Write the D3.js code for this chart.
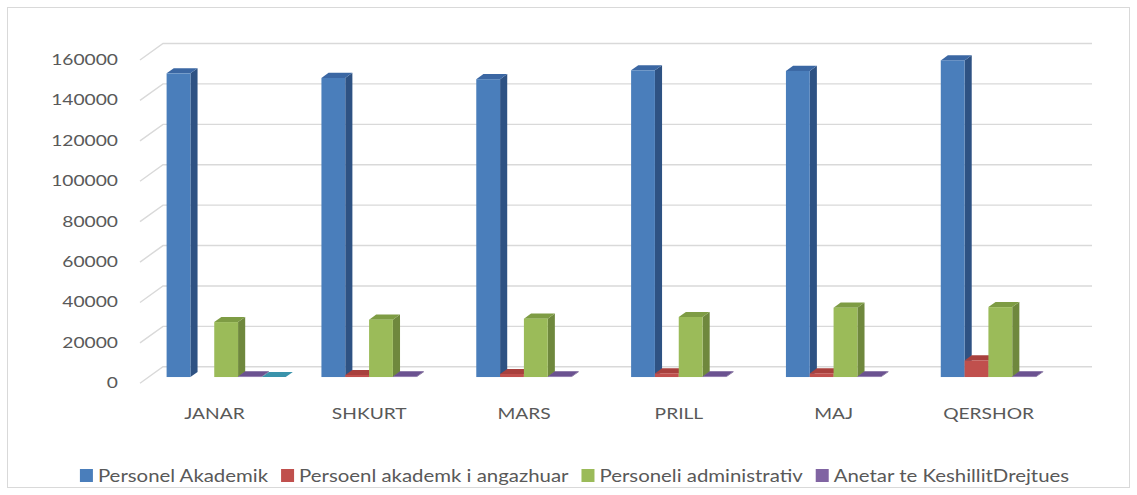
<!DOCTYPE html>
<html>
<head>
<meta charset="utf-8">
<script src="https://cdn.jsdelivr.net/npm/d3@7"></script>
<style>
  body { margin: 0; background: #fff; }
  text { font-family: Lato, "Open Sans", sans-serif; fill: #595959; }
</style>
</head>
<body>
<div id="chart"></div>
<script>
// data
var months = ["JANAR", "SHKURT", "MARS", "PRILL", "MAJ", "QERSHOR"];
var akademik = [150300, 148000, 147400, 151800, 151500, 156700];
var angazhuar = [null, 1000, 1500, 1800, 1800, 8200];
var administrativ = [27200, 28400, 28900, 29700, 34300, 34600];
var keshilli = [300, 300, 300, 300, 300, 300];
var extra = [0, null, null, null, null, null];   // teal series, not in legend
var yTicks = [0, 20000, 40000, 60000, 80000, 100000, 120000, 140000, 160000];

var series = [
  {name: "Personel Akademik", values: akademik, front: "#4a7ebb", side: "#2e5283", top: "#3b67a3", legend: true},
  {name: "Persoenl akademk i angazhuar", values: angazhuar, front: "#c0504d", side: "#8c3a37", top: "#a8403d", legend: true},
  {name: "Personeli administrativ", values: administrativ, front: "#9bbb59", side: "#6f883d", top: "#7e9c44", legend: true},
  {name: "Anetar te KeshillitDrejtues", values: keshilli, front: "#8064a2", side: "#5e4a7a", top: "#6b5290", legend: true},
  {name: "Series5", values: extra, front: "#4bacc6", side: "#33849a", top: "#3a93ab", legend: false}
];

var W = 1137, H = 495;
var DX = 23, DY = -16.5;      // floor depth offset
var dFront = 0.38, dBack = 0.69;
var sx = 1.2;                 // horizontal text stretch

var svg = d3.select("#chart").append("svg")
  .attr("width", W).attr("height", H);

svg.append("rect")
  .attr("x", 7.5).attr("y", 7.5).attr("width", 1122).attr("height", 480)
  .attr("fill", "#fff").attr("stroke", "#d9d9d9");

var x = d3.scaleBand().domain(months).range([140, 1069]);
var xs = d3.scaleBand().domain(series.map(function(s) { return s.name; }))
  .range([0, x.bandwidth()]).paddingOuter(0.75);
var y = d3.scaleLinear().domain([0, 160000]).range([383.3, 60]);

// side wall + back wall gridlines
var grid = svg.append("g").attr("stroke", "#d9d9d9").attr("stroke-width", 1.4).attr("fill", "none");
yTicks.forEach(function(v) {
  grid.append("path")
    .attr("d", "M140," + y(v) + "L" + (140 + DX) + "," + (y(v) + DY) + "L" + (1069 + DX) + "," + (y(v) + DY));
});

// y labels
svg.append("g").selectAll("text").data(yTicks).enter().append("text")
  .attr("transform", function(d) { return "translate(118," + (y(d) - 1) + ") scale(" + sx + ",1)"; })
  .attr("text-anchor", "end").attr("dominant-baseline", "central")
  .attr("font-size", 16)
  .text(function(d) { return d; });

// category labels
svg.append("g").selectAll("text").data(months).enter().append("text")
  .attr("transform", function(d) { return "translate(" + (x(d) + x.bandwidth() / 2 - 3) + ",419) scale(" + sx + ",1)"; })
  .attr("text-anchor", "middle")
  .attr("font-size", 16)
  .text(function(d) { return d; });

// bars, drawn left to right
var ddx = DX * (dBack - dFront), ddy = DY * (dBack - dFront);
var bars = svg.append("g");
months.forEach(function(m, i) {
  series.forEach(function(s) {
    var v = s.values[i];
    if (v === null) return;
    var x0 = x(m) + xs(s.name) + DX * dFront;
    var w = xs.bandwidth();
    var yb = y(0) + DY * dFront;
    var yt = y(v) + DY * dFront;
    var g = bars.append("g");
    g.append("polygon")
      .attr("points", [[x0 + w, yt], [x0 + w + ddx, yt + ddy], [x0 + w + ddx, yb + ddy], [x0 + w, yb]].join(" "))
      .attr("fill", s.side);
    g.append("polygon")
      .attr("points", [[x0, yt], [x0 + w, yt], [x0 + w + ddx, yt + ddy], [x0 + ddx, yt + ddy]].join(" "))
      .attr("fill", s.top);
    g.append("rect")
      .attr("x", x0).attr("y", yt).attr("width", w).attr("height", yb - yt)
      .attr("fill", s.front);
  });
});

// legend
var legend = svg.append("g");
var lx = 0;
series.filter(function(s) { return s.legend; }).forEach(function(s) {
  var item = legend.append("g").attr("transform", "translate(" + lx + ",0)");
  item.append("rect").attr("x", 0).attr("y", -6.5).attr("width", 13).attr("height", 13).attr("fill", s.front);
  var t = item.append("text")
    .attr("transform", "translate(18,0) scale(" + sx + ",1)")
    .attr("dominant-baseline", "central")
    .attr("font-size", 17)
    .text(s.name);
  lx += 18 + t.node().getComputedTextLength() * sx + 13;
});
lx -= 13;
legend.attr("transform", "translate(" + (574.5 - lx / 2) + ",475.5)");
</script>
</body>
</html>
